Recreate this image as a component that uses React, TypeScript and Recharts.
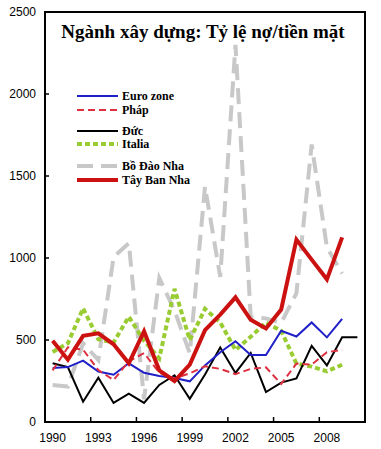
import React from 'react';
import { LineChart, Line, XAxis, YAxis, ReferenceArea } from 'recharts';

const years = [1990, 1991, 1992, 1993, 1994, 1995, 1996, 1997, 1998, 1999, 2000, 2001, 2002, 2003, 2004, 2005, 2006, 2007, 2008, 2009, 2010];

const euroZone = [330, 335, 374, 308, 288, 358, 300, 280, 268, 248, 345, 425, 492, 409, 409, 556, 521, 607, 516, 629, null];
const phap = [315, 455, 441, 317, 256, 370, 420, 300, 266, 297, 340, 324, 292, 324, 333, 232, 356, 350, 425, 440, null];
const duc = [358, 335, 124, 270, 116, 173, 116, 226, 285, 141, 290, 455, 299, 421, 183, 240, 266, 464, 345, 517, 517];
const italia = [427, 480, 693, 505, 485, 642, 495, 388, 812, 500, 690, 607, 439, 520, 606, 556, 356, 338, 309, 349, null];
const boDaoNha = [226, 216, 480, 378, 1005, 1090, 138, 878, 680, 419, 1436, 885, 2300, 640, 632, 605, 785, 1692, 1065, 906, null];
const tayBanNha = [495, 380, 525, 541, 474, 358, 553, 315, 250, 350, 560, 655, 760, 623, 570, 686, 1112, 990, 870, 1126, null];

const yTicks = [0, 500, 1000, 1500, 2000, 2500];
const xTicks = [1990, 1993, 1996, 1999, 2002, 2005, 2008];

const data = years.map((year, i) => ({
  year,
  euroZone: euroZone[i],
  phap: phap[i],
  duc: duc[i],
  italia: italia[i],
  boDaoNha: boDaoNha[i],
  tayBanNha: tayBanNha[i],
}));

const W = 381;
const H = 449;
const MARGIN = { top: 12, right: 16, left: 0, bottom: 0 };
const Y_AXIS_W = 45;
const X_AXIS_H = 27;
const PLOT_W = W - MARGIN.left - MARGIN.right - Y_AXIS_W;
const HALF_BAND = PLOT_W / years.length / 2;

const axisFont = "Arial, 'Liberation Sans', sans-serif";
const serifFont = "'Times New Roman', 'Liberation Serif', serif";

const series = [
  { key: 'boDaoNha', name: 'Bồ Đào Nha', color: '#c8c8c8', width: 4, dash: '16 8' },
  { key: 'italia', name: 'Italia', color: '#99cc33', width: 4, dash: '5 3' },
  { key: 'duc', name: 'Đức', color: '#000000', width: 2, dash: undefined },
  { key: 'euroZone', name: 'Euro zone', color: '#2020c8', width: 2, dash: undefined },
  { key: 'phap', name: 'Pháp', color: '#dd3040', width: 2, dash: '7 4' },
  { key: 'tayBanNha', name: 'Tây Ban Nha', color: '#cc1111', width: 4, dash: undefined },
];

// legend order and row positions as in the picture
const legendRows = [
  { key: 'euroZone', y: 96 },
  { key: 'phap', y: 110 },
  { key: 'duc', y: 131 },
  { key: 'italia', y: 144 },
  { key: 'boDaoNha', y: 166 },
  { key: 'tayBanNha', y: 180 },
];

const XTick = (props: any) => {
  const { x, y, payload } = props;
  const tx = x - HALF_BAND;
  return (
    <g>
      <line x1={tx} y1={y} x2={tx} y2={y - 5} stroke="#000" strokeWidth={1.5} />
      <text x={x} y={y + 16} dy="0.35em" textAnchor="middle" fontSize={12} fontFamily={axisFont} fill="#000">
        {payload.value}
      </text>
    </g>
  );
};

const YTick = (props: any) => {
  const { x, y, payload } = props;
  return (
    <g>
      <line x1={x} y1={y} x2={x + 4} y2={y} stroke="#000" strokeWidth={1.5} />
      <text x={x - 9} y={y} dy="0.35em" textAnchor="end" fontSize={12} fontFamily={axisFont} fill="#000">
        {payload.value}
      </text>
    </g>
  );
};

export default function App() {
  return (
    <div style={{ position: 'absolute', left: 0, top: 0, width: W, height: H, background: '#fff' }}>
      <LineChart width={W} height={H} data={data} margin={MARGIN}>
        <XAxis
          dataKey="year"
          type="number"
          domain={[1989.5, 2010.5]}
          ticks={xTicks}
          height={X_AXIS_H}
          tickSize={0}
          tickMargin={0}
          tickLine={false}
          axisLine={{ stroke: '#000', strokeWidth: 2 }}
          tick={<XTick />}
          interval={0}
        />
        <YAxis
          type="number"
          domain={[0, 2500]}
          ticks={yTicks}
          width={Y_AXIS_W}
          tickSize={0}
          tickMargin={0}
          tickLine={false}
          axisLine={{ stroke: '#000', strokeWidth: 2 }}
          tick={<YTick />}
          interval={0}
        />
        <ReferenceArea x1={1989.5} x2={2010.5} y1={0} y2={2500} fill="none" stroke="#000" strokeWidth={2} />
        {series.map((s) => (
          <Line
            key={s.key}
            dataKey={s.key}
            name={s.name}
            type="linear"
            stroke={s.color}
            strokeWidth={s.width}
            strokeDasharray={s.dash}
            dot={false}
            activeDot={false}
            isAnimationActive={false}
          />
        ))}
      </LineChart>
      <svg width={W} height={H} style={{ position: 'absolute', left: 0, top: 0, pointerEvents: 'none' }}>
        <text x={203} y={38} textAnchor="middle" fontSize={19} fontWeight="bold" fontFamily={serifFont} fill="#000">
          Ngành xây dựng: Tỷ lệ nợ/tiền mặt
        </text>
        {legendRows.map((row) => {
          const s = series.find((d) => d.key === row.key)!;
          return (
            <g key={row.key}>
              <line x1={77} y1={row.y} x2={118} y2={row.y} stroke={s.color} strokeWidth={s.width} strokeDasharray={s.dash} />
              <text x={122} y={row.y} dy="0.35em" fontSize={12} fontWeight="bold" fontFamily={serifFont} fill="#000">
                {s.name}
              </text>
            </g>
          );
        })}
      </svg>
    </div>
  );
}
